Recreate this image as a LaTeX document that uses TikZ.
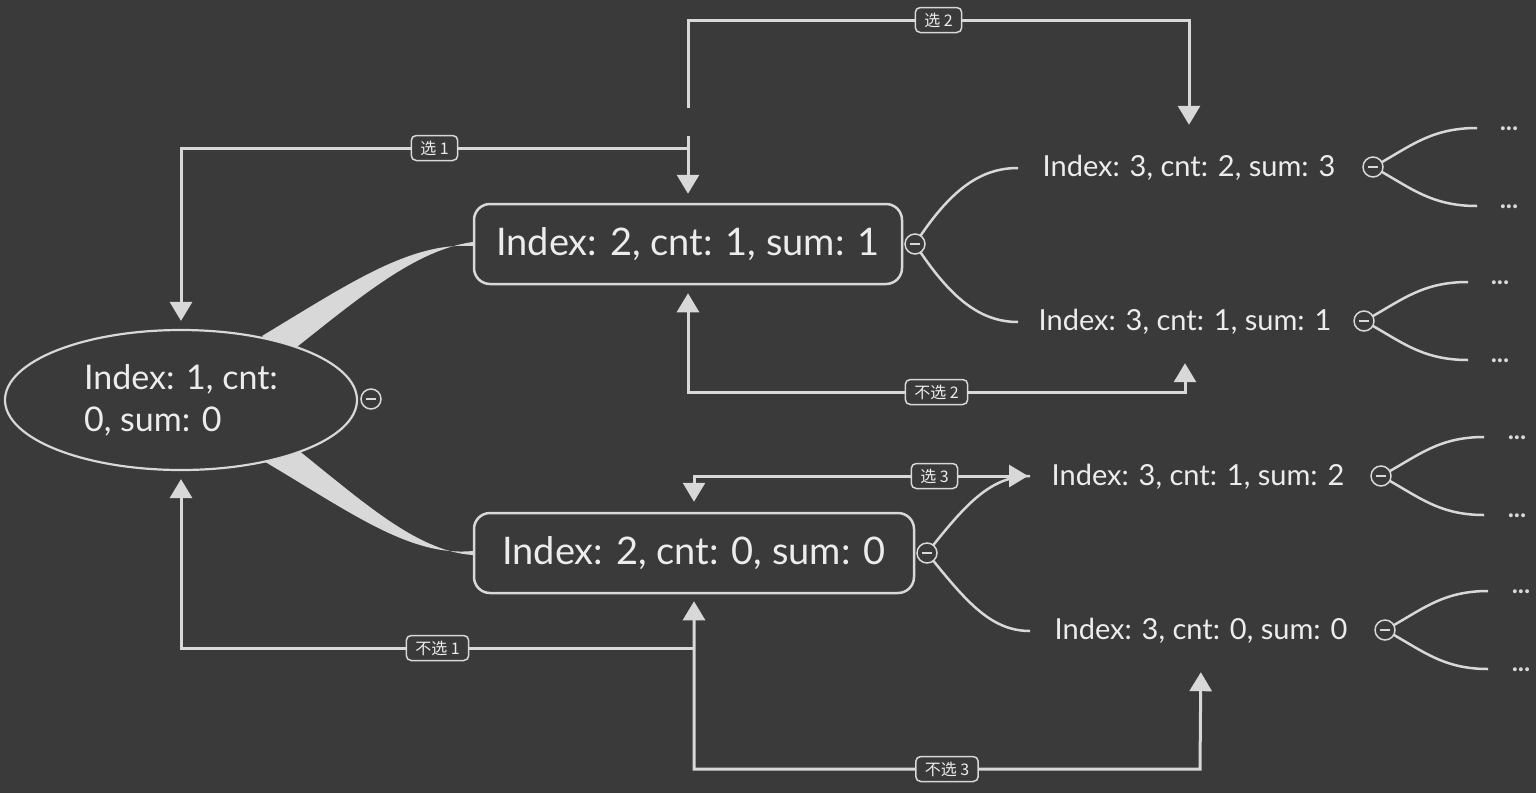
\documentclass[tikz,border=0pt]{standalone}
\usepackage{fontspec}
\setmainfont{Lato}
\newfontfamily\cjk{Noto Sans CJK SC}
\usetikzlibrary{positioning}
\usetikzlibrary{arrows.meta}
\usetikzlibrary{shapes.geometric}
\definecolor{bgcol}{HTML}{3A3A3A}
\definecolor{linecol}{HTML}{D8D8D8}
\definecolor{txtcol}{HTML}{ECECEC}

\begin{document}
\begin{tikzpicture}[x=1pt,y=-1pt,
				every node/.style={text=txtcol},
				link/.style={draw=linecol,line width=3pt},
				thinlink/.style={draw=linecol,line width=2.5pt},
				arr/.style={link,-{Triangle[width=22pt,length=19pt]}},
				darr/.style={link,{Triangle[width=22pt,length=19pt]}-{Triangle[width=22pt,length=19pt]}},
				rootnode/.style={ellipse,draw=linecol,line width=2.2pt,fill=bgcol,minimum width=352pt,minimum height=140pt,inner sep=0pt,align=left,font=\fontsize{34}{42}\selectfont},
				midnode/.style={rectangle,rounded corners=16pt,draw=linecol,line width=2.5pt,fill=bgcol,minimum height=80pt,font=\fontsize{38}{46}\selectfont},
				leafnode/.style={inner sep=0pt,minimum height=40pt,font=\fontsize{29}{34}\selectfont},
				fold/.style={circle,draw=linecol,line width=1.5pt,fill=bgcol,minimum size=20pt,inner sep=0pt},
				tag/.style={rectangle,rounded corners=5pt,draw=linecol,line width=1.5pt,fill=bgcol,minimum height=25pt,inner xsep=9pt,inner ysep=0pt,font=\cjk\fontsize{16}{18}\selectfont},
				more/.style={font=\fontsize{26}{28}\selectfont\bfseries,text=linecol}]
			\fill[bgcol] (0,0) rectangle (1536,793);
			\useasboundingbox (0,0) rectangle (1536,793);
			\node[midnode,minimum width=428pt] (a2) at (688,244) {Index: 2, cnt: 1, sum: 1};
			\node[midnode,minimum width=440pt] (b2) at (694,553) {Index: 2, cnt: 0, sum: 0};
			\fill[linecol] (262,336) .. controls (350,283) and (410,242) .. ([yshift=-2pt]a2.west) -- ([yshift=2pt]a2.west) .. controls (415,250) and (360,297) .. (288,354) -- cycle;
			\fill[linecol] (288,442) .. controls (360,499) and (415,551) .. ([yshift=-2pt]b2.west) -- ([yshift=2pt]b2.west) .. controls (410,557) and (350,512) .. (262,460) -- cycle;
			\node[rootnode] (root) at (181,400) {Index: 1, cnt:\\0, sum: 0};
			\node[leafnode] (c1) at (1189,168) {Index: 3, cnt: 2, sum: 3};
			\node[leafnode] (c2) at (1185,322) {Index: 3, cnt: 1, sum: 1};
			\node[leafnode] (c3) at (1198,477) {Index: 3, cnt: 1, sum: 2};
			\node[leafnode] (c4) at (1201,631) {Index: 3, cnt: 0, sum: 0};
			\coordinate (a2up) at (1018,168);
			\coordinate (a2down) at (1018,322);
			\coordinate (b2up) at (1030,476);
			\coordinate (b2down) at (1030,631);
			\draw[thinlink] (915,244) .. controls (950,190) and (980,168) .. (a2up);
			\draw[thinlink] (915,244) .. controls (950,298) and (980,322) .. (a2down);
			\draw[thinlink] (927,553) .. controls (965,505) and (990,476) .. (b2up);
			\draw[thinlink] (927,553) .. controls (965,600) and (990,631) .. (b2down);
			\node[fold] (froot) at (371,399) {\textcolor{linecol}{\rule{10pt}{1.6pt}}};
			\node[fold] (fa2) at (915,244) {\textcolor{linecol}{\rule{10pt}{1.6pt}}};
			\node[fold] (fb2) at (927,553) {\textcolor{linecol}{\rule{10pt}{1.6pt}}};
			\foreach \n/\cx/\cy/\ex/\dx in {c1/1373/167/1477/1509, c2/1364/321/1468/1500, c3/1381/476/1484/1517, c4/1385/630/1488/1521} {
				\coordinate (\n up) at (\ex,\cy-39);
				\coordinate (\n down) at (\ex,\cy+39);
				\draw[thinlink] (\cx,\cy) .. controls (\cx+37,\cy-20) and (\cx+57,\cy-39) .. (\n up);
				\draw[thinlink] (\cx,\cy) .. controls (\cx+37,\cy+20) and (\cx+57,\cy+39) .. (\n down);
				\node[fold] (f\n) at (\cx,\cy) {\textcolor{linecol}{\rule{10pt}{1.6pt}}};
				\node[more] (m\n up) at (\dx,\cy-38) {...};
				\node[more] (m\n down) at (\dx,\cy+40) {...};
			}
			\draw[arr,shorten >=8pt] (688,148) -- node[tag] {选 1} (181,148) -- (root.north);
			\draw[arr,shorten >=9pt] (688,136) -- (a2.north);
			\draw[arr,shorten >=23pt] (688,108) -- (688,20) -- node[tag] {选 2} (1189,20) -- (c1.north);
			\draw[darr,shorten <=8pt,shorten >=21pt] (a2.south) -- (688,392) -- node[tag] {不选 2} (1185,392) -- (c2.south);
			\draw[darr,shorten <=10pt] (b2.north) -- (694,476) -- node[tag,pos=0.72] {选 3} (1028,476);
			\draw[arr,shorten >=8pt] (694,648) -- node[tag] {不选 1} (181,648) -- (root.south);
			\draw[darr,shorten <=7pt,shorten >=21pt] (b2.south) -- (694,769) -- node[tag] {不选 3} (1200,769) -- (c4.south);
\end{tikzpicture}
\end{document}
